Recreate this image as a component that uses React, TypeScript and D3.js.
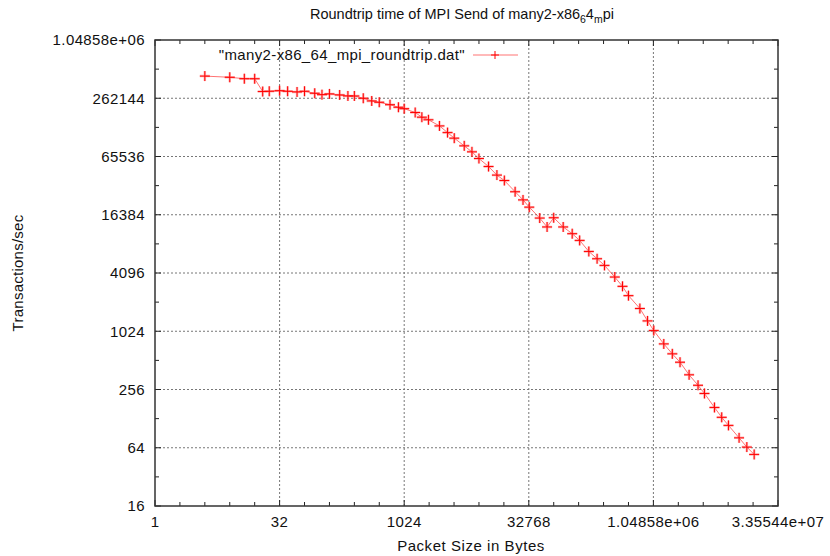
import React from "react";
import * as d3 from "d3";

// packet size (bytes) and transactions/sec
const packetSizes = [
  4, 8, 12, 16, 20, 24, 32, 40, 52, 64, 85, 104, 128, 170, 214, 256, 328, 415,
  512, 690, 872, 1024, 1390, 1674, 2010, 2730, 3420, 4120, 5440, 6740, 8190,
  10700, 13500, 16600, 22400, 27900, 33200, 44400, 54500, 65500, 85300, 109600,
  134800, 174000, 219000, 269000, 358000, 444000, 524000, 720000, 891000,
  1060000, 1400000, 1775000, 2200000, 2830000, 3630000, 4340000, 5730000,
  7010000, 8460000, 11370000, 14100000, 17300000,
];
const transactionsPerSec = [
  444000, 431800, 417300, 417000, 307500, 309600, 313800, 309600, 304600,
  309600, 295200, 285600, 290700, 283500, 276800, 276800, 262144, 245900,
  238300, 224900, 211600, 204600, 186800, 167000, 157000, 135700, 115700,
  101400, 84400, 73200, 62460, 51600, 42100, 37000, 28330, 23340, 19630, 15140,
  12250, 15260, 12250, 10440, 8900, 6840, 5750, 4910, 3720, 2980, 2390, 1760,
  1310, 1040, 758, 598, 490, 363, 283, 233, 167, 132, 109, 81, 65, 54.6,
];

const xTickValues = [1, 32, 1024, 32768, 1048576, 33554432];
const xTickLabels = ["1", "32", "1024", "32768", "1.04858e+06", "3.35544e+07"];
const yTickValues = [16, 64, 256, 1024, 4096, 16384, 65536, 262144, 1048576];
const yTickLabels = ["16", "64", "256", "1024", "4096", "16384", "65536", "262144", "1.04858e+06"];

const seriesName = '"many2-x86_64_mpi_roundtrip.dat"';

const W = 830;
const H = 556;
const margin = { left: 155, right: 52, top: 40, bottom: 50 };
const font = "'Liberation Sans', Arial, sans-serif";

export default function App() {
  const x = d3
    .scaleLog()
    .base(2)
    .domain([1, 33554432])
    .range([margin.left, W - margin.right]);
  const y = d3
    .scaleLog()
    .base(2)
    .domain([16, 1048576])
    .range([H - margin.bottom, margin.top]);

  const [x0, x1] = x.range();
  const [y0, y1] = y.range();

  const xMinor = d3.range(0, 26).map((p) => Math.pow(2, p));
  const yMinor = d3.range(4, 21).map((p) => Math.pow(2, p));

  const pts: [number, number][] = packetSizes.map((s, i) => [x(s), y(transactionsPerSec[i])]);
  const line = d3.line()(pts) || "";

  const cross = (cx: number, cy: number, r = 5) =>
    `M${cx - r},${cy}H${cx + r}M${cx},${cy - r}V${cy + r}`;

  const legendY = 55;

  return (
    <div style={{ position: "absolute", left: 0, top: 0 }}>
      <svg width={W} height={H} style={{ display: "block", background: "#fff" }} fontFamily={font}>
        {/* grid */}
        <g stroke="#777" strokeWidth={1} strokeDasharray="2,2">
          {xTickValues.slice(1, -1).map((v) => (
            <line key={"gx" + v} x1={x(v)} x2={x(v)} y1={y0} y2={y1} />
          ))}
          {yTickValues.slice(1, -1).map((v) => (
            <line key={"gy" + v} x1={x0} x2={x1} y1={y(v)} y2={y(v)} />
          ))}
        </g>

        {/* ticks, mirrored on all sides */}
        <g stroke="#222" strokeWidth={1}>
          {xMinor.map((v) => {
            const len = xTickValues.includes(v) ? 6 : 4;
            return (
              <g key={"tx" + v}>
                <line x1={x(v)} x2={x(v)} y1={y0} y2={y0 - len} />
                <line x1={x(v)} x2={x(v)} y1={y1} y2={y1 + len} />
              </g>
            );
          })}
          {yMinor.map((v) => {
            const len = yTickValues.includes(v) ? 6 : 4;
            return (
              <g key={"ty" + v}>
                <line x1={x0} x2={x0 + len} y1={y(v)} y2={y(v)} />
                <line x1={x1} x2={x1 - len} y1={y(v)} y2={y(v)} />
              </g>
            );
          })}
        </g>

        {/* border */}
        <rect x={x0} y={y1} width={x1 - x0} height={y0 - y1} fill="none" stroke="#333" strokeWidth={1.5} />

        {/* tick labels */}
        <g fontSize={15} fill="#111" letterSpacing={0.4}>
          {xTickValues.map((v, i) => (
            <text key={"lx" + v} x={x(v)} y={y0 + 21} textAnchor="middle">
              {xTickLabels[i]}
            </text>
          ))}
          {yTickValues.map((v, i) => (
            <text key={"ly" + v} x={x0 - 10} y={y(v)} dy="0.35em" textAnchor="end">
              {yTickLabels[i]}
            </text>
          ))}
        </g>

        {/* data */}
        <path d={line} fill="none" stroke="#ff0000" strokeOpacity={0.55} strokeWidth={1} />
        <path
          d={pts.map((p) => cross(p[0], p[1])).join("")}
          fill="none"
          stroke="#ff6060"
          strokeOpacity={0.45}
          strokeWidth={2.5}
        />
        <path d={pts.map((p) => cross(p[0], p[1])).join("")} fill="none" stroke="#ff0000" strokeWidth={1} />

        {/* legend */}
        <text x={465} y={legendY} dy="0.35em" textAnchor="end" fontSize={15} letterSpacing={0.35} fill="#111">
          {seriesName}
        </text>
        <line x1={473} x2={518} y1={legendY} y2={legendY} stroke="#ff0000" strokeOpacity={0.55} />
        <path d={cross(495, legendY, 4)} stroke="#ff0000" strokeWidth={1} />

        {/* title */}
        <text x={462} y={19} textAnchor="middle" fontSize={14.5} fill="#111">
          Roundtrip time of MPI Send of many2-x86
          <tspan fontSize={10.5} dy={4}>6</tspan>
          <tspan dy={-4}>4</tspan>
          <tspan fontSize={10.5} dy={4}>m</tspan>
          <tspan dy={-4}>pi</tspan>
        </text>

        {/* axis labels */}
        <text x={471} y={551} textAnchor="middle" fontSize={15} letterSpacing={0.55} fill="#111">
          Packet Size in Bytes
        </text>
        <text
          transform={`translate(23,${(y0 + y1) / 2}) rotate(-90)`}
          textAnchor="middle"
          fontSize={15}
          letterSpacing={0.25}
          fill="#111"
        >
          Transactions/sec
        </text>
      </svg>
    </div>
  );
}
